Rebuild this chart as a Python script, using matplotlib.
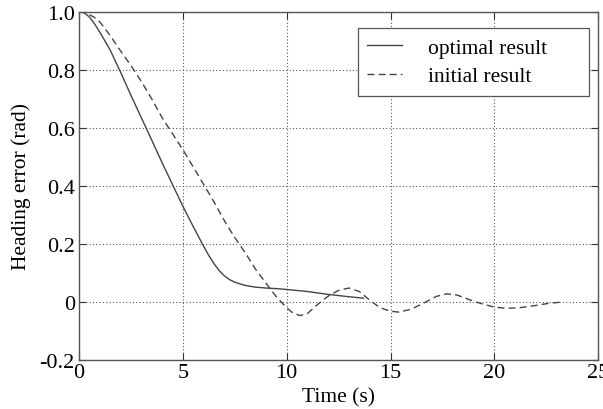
import matplotlib
matplotlib.use("Agg")
import matplotlib.pyplot as plt

plt.rcParams['font.family'] = ['Liberation Serif', 'DejaVu Serif']

# Data
t_opt = [0, 0.25, 0.5, 0.75, 1, 1.5, 2, 2.5, 3, 3.5, 4, 4.5, 5, 5.5, 6, 6.25,
         6.5, 6.75, 7, 7.25, 7.5, 8, 8.5, 9, 9.5, 10, 11, 12, 13, 13.7]
y_opt = [1.0, 0.996, 0.982, 0.958, 0.93, 0.868, 0.792, 0.712, 0.635, 0.558,
         0.48, 0.405, 0.33, 0.26, 0.192, 0.16, 0.132, 0.108, 0.09, 0.077,
         0.068, 0.057, 0.051, 0.048, 0.046, 0.043, 0.036, 0.026, 0.018, 0.013]

t_init = [0, 0.25, 0.5, 0.75, 1, 1.5, 2, 2.5, 3, 3.5, 4, 4.5, 5, 5.5, 6, 6.5,
          7, 7.5, 8, 8.5, 9, 9.5, 10, 10.3, 10.65, 11, 11.5, 12, 12.5, 13,
          13.5, 14, 14.5, 15, 15.4, 16, 16.7, 17.2, 17.7, 18.2, 19.1, 20,
          20.6, 21.2, 22, 22.6, 23.3]
y_init = [1.0, 0.998, 0.99, 0.98, 0.965, 0.918, 0.865, 0.815, 0.76, 0.70,
          0.635, 0.58, 0.525, 0.465, 0.405, 0.345, 0.28, 0.222, 0.17, 0.113,
          0.065, 0.018, -0.02, -0.038, -0.047, -0.04, -0.008, 0.02, 0.04,
          0.048, 0.036, 0.006, -0.02, -0.032, -0.035, -0.025, 0.0, 0.019,
          0.028, 0.024, 0.0, -0.018, -0.022, -0.02, -0.012, -0.005, 0.0]

x_ticks = [0, 5, 10, 15, 20, 25]
y_ticks = [-0.2, 0, 0.2, 0.4, 0.6, 0.8, 1.0]
y_tick_labels = ['-0.2', '0', '0.2', '0.4', '0.6', '0.8', '1.0']

fig = plt.figure(figsize=(6.03, 4.10), dpi=100)
ax = fig.add_axes([0.131, 0.1195, 0.861, 0.8495])

col = '#444444'
ax.plot(t_opt, y_opt, color=col, lw=1.0, label='optimal result')
ax.plot(t_init, y_init, color=col, lw=1.0, ls=(0, (5, 3)), label='initial result')

ax.set_xlim(0, 25)
ax.set_ylim(-0.2, 1.0)
ax.set_xticks(x_ticks)
ax.set_yticks(y_ticks)
ax.set_yticklabels(y_tick_labels)
ax.tick_params(direction='in', length=5, width=0.8, colors='#333333',
               labelsize=16, top=True, right=True, pad=3, labelcolor='black')
ax.tick_params(axis='x', pad=2)
ax.grid(True, ls=(0, (1, 2)), color='#555555', lw=0.8)
for s in ax.spines.values():
    s.set_color('#555555')
    s.set_linewidth(1.0)

ax.set_xlabel('Time (s)', fontsize=15.5, labelpad=4)
ax.set_ylabel('Heading error (rad)', fontsize=15.5, labelpad=6)

leg = ax.legend(loc='upper left', bbox_to_anchor=(0.537, 0.758, 0.446, 0.195),
                mode='expand', fontsize=15.5, frameon=True, fancybox=False,
                handlelength=1.6, handletextpad=1.2, borderpad=0.45,
                labelspacing=0.38, borderaxespad=0)
leg.get_frame().set_edgecolor('#555555')
leg.get_frame().set_linewidth(0.9)
leg.get_frame().set_alpha(1)

fig.savefig('out.png', dpi=100)
